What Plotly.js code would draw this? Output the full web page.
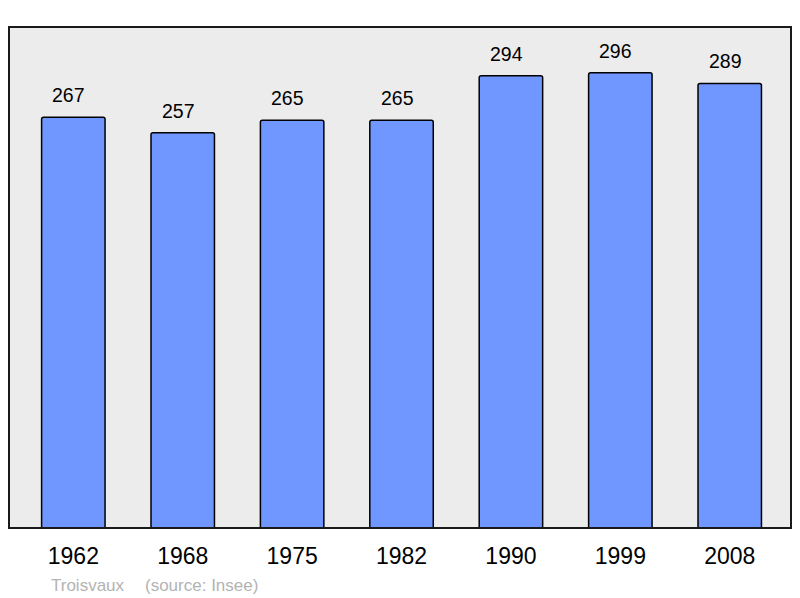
<!DOCTYPE html>
<html><head><meta charset="utf-8">
<script src="https://cdn.plot.ly/plotly-3.0.1.min.js"></script>
<style>html,body{margin:0;padding:0;background:#fff}#chart{width:800px;height:598px}</style>
</head><body><div id="chart"></div>
<script>
const years = ["1962","1968","1975","1982","1990","1999","2008"];
const population = [267,257,265,265,294,296,289];
const sourceTown = "Troisvaux";
const sourceNote = "(source: Insee)";

const annotations = years.map((y,i)=>({
  x: i, y: population[i], xref:'x', yref:'y', text: String(population[i]),
  showarrow:false, yanchor:'middle', yshift:22, xshift:-4.5,
  font:{family:'Liberation Sans, Arial, sans-serif', size:19.5, color:'#000'}
}));
annotations.push({xref:'paper', yref:'paper', x:(49-9)/782, y:-(585-528)/501, xanchor:'left', yanchor:'middle',
  text:sourceTown, showarrow:false, font:{family:'Liberation Sans, Arial, sans-serif', size:17, color:'#b3b3b3'}});
annotations.push({xref:'paper', yref:'paper', x:(143-9)/782, y:-(585-528)/501, xanchor:'left', yanchor:'middle',
  text:sourceNote, showarrow:false, font:{family:'Liberation Sans, Arial, sans-serif', size:17, color:'#b3b3b3'}});

const trace = {
  type:'bar', x: years, y: population, width:0.58,
  marker:{color:'#7096ff', line:{color:'#000', width:1.5}, cornerradius:2},
  hoverinfo:'none'
};
const layout = {
  width:800, height:598,
  margin:{l:9, r:9, t:27, b:70, pad:0},
  paper_bgcolor:'#fff', plot_bgcolor:'#ececec',
  showlegend:false,
  xaxis:{type:'category', range:[-0.588, 6.56], showgrid:false, zeroline:false, showline:false,
    ticks:'', ticklabelstandoff:12,
    tickfont:{family:'Liberation Sans, Arial, sans-serif', size:23, color:'#000'}},
  yaxis:{range:[0,325.7], showgrid:false, zeroline:false, showline:false, showticklabels:false, ticks:''},
  shapes:[{type:'rect', xref:'paper', yref:'paper', x0:0, x1:1, y0:0, y1:1,
    line:{color:'#1a1a1a', width:2}, fillcolor:'rgba(0,0,0,0)', layer:'above'}],
  annotations: annotations
};
Plotly.newPlot('chart', [trace], layout, {displayModeBar:false, staticPlot:true});
</script></body></html>
